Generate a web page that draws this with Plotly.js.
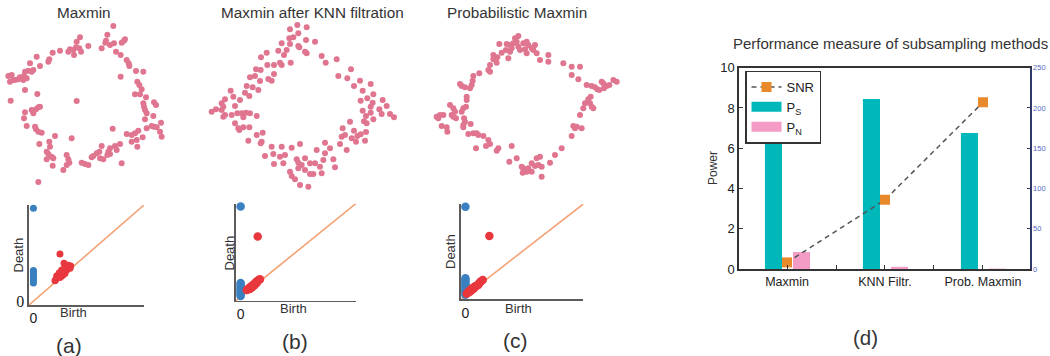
<!DOCTYPE html>
<html><head><meta charset="utf-8">
<script src="https://cdn.plot.ly/plotly-3.0.1.min.js"></script>
<style>html,body{margin:0;padding:0;background:#fff}#chart{width:1050px;height:356px}</style>
</head><body><div id="chart"></div>
<script>
// ---- point clouds (arbitrary units, y grows downward) ----
const maxminPts = [[340,78],[322,104],[318,122],[330,135],[316,128],[342,130],[365,128],[372,122],[375,118],[305,145],[348,155],[362,165],[380,180],[386,190],[388,198],[408,213],[430,215],[362,230],[412,245],[418,255],[425,268],[405,283],[420,283],[438,292],[430,310],[432,320],[435,330],[462,307],[468,315],[440,340],[460,348],[435,358],[483,368],[462,380],[470,382],[455,378],[440,385],[480,395],[485,410],[415,392],[405,400],[395,405],[380,402],[410,420],[395,425],[428,412],[412,440],[338,386],[360,432],[345,438],[330,445],[325,455],[330,462],[322,465],[305,438],[298,455],[290,460],[280,468],[275,472],[300,475],[310,478],[350,450],[365,490],[265,495],[255,492],[245,488],[215,415],[200,465],[205,478],[208,488],[200,495],[190,510],[165,408],[148,425],[150,440],[140,455],[145,462],[155,470],[160,475],[140,478],[158,497],[118,432],[125,398],[115,395],[108,388],[105,380],[80,378],[72,355],[75,337],[100,340],[108,328],[95,330],[115,322],[120,320],[112,282],[75,270],[32,302],[230,303],[115,546],[25,228],[35,225],[40,240],[30,245],[45,240],[55,238],[60,232],[70,240],[72,228],[80,235],[75,215],[85,212],[90,190],[95,215],[100,210],[110,170],[120,198],[145,185],[148,178],[158,158],[180,152],[205,155],[210,148],[220,150],[228,142],[222,165],[238,145],[243,155],[230,125],[240,112],[265,138]];
const knnPts = [[352,75],[330,88],[380,82],[355,100],[340,112],[328,115],[305,130],[330,132],[355,138],[358,142],[378,120],[405,125],[375,155],[320,150],[295,152],[312,165],[260,158],[243,172],[262,195],[282,195],[300,188],[305,195],[332,188],[282,222],[275,242],[265,237],[242,210],[228,208],[225,228],[210,232],[240,243],[200,258],[218,262],[235,270],[195,278],[208,288],[152,272],[160,290],[135,298],[125,310],[130,320],[108,328],[95,335],[125,330],[135,345],[130,350],[155,345],[165,318],[180,300],[172,340],[185,340],[190,352],[198,338],[210,340],[230,348],[165,370],[175,385],[178,390],[190,382],[208,382],[230,405],[248,398],[242,430],[245,425],[205,422],[275,440],[255,468],[280,462],[282,492],[305,440],[300,470],[315,465],[310,490],[335,443],[360,432],[350,478],[355,488],[355,505],[365,495],[375,510],[330,515],[335,528],[345,538],[360,555],[385,560],[390,522],[400,522],[375,475],[390,490],[405,490],[410,450],[435,428],[435,460],[430,480],[420,500],[425,520],[450,445],[460,478],[465,502],[480,432],[485,410],[500,450],[528,425],[555,422],[470,178],[437,188],[425,168],[380,160],[475,228],[513,208],[502,235],[540,242],[572,252],[522,258],[548,272],[580,283],[562,295],[542,302],[608,300],[578,308],[572,320],[620,318],[598,328],[548,332],[572,338],[605,342],[630,342],[642,352],[558,348],[580,358],[552,364],[560,370],[510,365],[488,385],[522,392],[558,396],[495,405],[532,408],[542,403],[515,415]];
const probPts = [[355,108],[345,115],[350,125],[340,130],[330,135],[320,132],[335,145],[355,140],[360,150],[370,130],[380,125],[385,135],[375,148],[380,160],[395,145],[405,135],[410,160],[400,150],[298,132],[318,150],[330,155],[305,158],[325,175],[280,165],[292,172],[280,178],[290,188],[270,195],[265,210],[270,215],[238,220],[220,228],[218,242],[215,255],[180,252],[185,258],[195,262],[210,265],[200,290],[200,300],[198,320],[190,325],[185,335],[150,315],[160,325],[165,335],[155,345],[160,350],[168,355],[130,345],[120,345],[110,350],[115,355],[192,355],[195,365],[190,375],[190,382],[212,372],[125,378],[140,382],[142,395],[205,402],[220,400],[230,400],[235,405],[250,408],[228,445],[265,420],[270,432],[258,438],[295,445],[290,452],[335,438],[328,485],[350,475],[365,500],[370,505],[375,512],[368,518],[380,515],[385,505],[395,515],[395,490],[410,475],[420,470],[405,498],[415,495],[425,500],[425,530],[450,488],[465,465],[485,445],[515,408],[520,378],[530,380],[525,385],[545,385],[540,345],[550,325],[555,310],[565,305],[570,310],[575,320],[580,325],[572,290],[565,298],[560,255],[575,258],[585,262],[592,268],[598,270],[605,245],[610,250],[612,265],[620,258],[628,255],[640,240],[650,245],[535,238],[515,225],[490,190],[515,200],[540,200],[445,165],[445,185],[420,180]];

// ---- persistence diagrams ----
const maxminH0Death = [0.966,0.19,0.21,0.23,0.25,0.27,0.29,0.31,0.32];
const maxminH1 = [[0.204,0.227],[0.216,0.248],[0.225,0.272],[0.234,0.296],[0.256,0.324],[0.286,0.352],[0.316,0.373],[0.337,0.366],[0.277,0.394],[0.240,0.490],[0.210,0.262],[0.256,0.262],[0.286,0.290],[0.301,0.324],[0.240,0.245],[0.270,0.275],[0.316,0.342],[0.195,0.213],[0.301,0.359],[0.331,0.342]];
const knnH0Death = [0.968,0.01,0.03,0.05,0.07,0.09,0.11,0.13,0.15];
const knnH1 = [[0.148,0.646],[0.053,0.075],[0.06,0.08],[0.07,0.09],[0.08,0.10],[0.09,0.11],[0.10,0.12],[0.11,0.13],[0.12,0.14],[0.13,0.155],[0.14,0.165],[0.15,0.175],[0.16,0.185],[0.168,0.19],[0.08,0.085],[0.10,0.105],[0.12,0.125],[0.14,0.15]];
const probH0Death = [0.97,0.01,0.03,0.05,0.07,0.09,0.11,0.13,0.15,0.17,0.19];
const probH1 = [[0.203,0.651],[0.011,0.02],[0.02,0.035],[0.03,0.05],[0.04,0.06],[0.05,0.07],[0.06,0.08],[0.07,0.09],[0.08,0.10],[0.09,0.105],[0.10,0.11],[0.11,0.12],[0.12,0.14],[0.13,0.155],[0.147,0.17],[0.05,0.055],[0.07,0.075],[0.035,0.04]];
const diagRange = [-0.04, 1];

// ---- panel (d) ----
const methods = ['Maxmin','KNN Filtr.','Prob. Maxmin'];
const powerSignal = [6.42, 8.45, 6.75];
const powerNoise = [0.84, 0.11, 0.02];
const snr = [8.2, 86, 207];

const FONT = 'Liberation Sans, Arial, sans-serif';
const PINK = '#e07590', BLUE = '#3a80c1', RED = '#e8383d', DIAG = '#f4a275';
const TEAL = '#00b8ba', ROSE = '#f49cc6';
const W = 1050, H = 356;
const px = v => v / W, py = v => 1 - v / H;

const traces = [];
const clouds = [maxminPts, knnPts, probPts];
clouds.forEach((pts, i) => {
  const k = i + 1;
  traces.push({type:'scatter', mode:'markers', x: pts.map(p=>p[0]), y: pts.map(p=>p[1]),
    xaxis:'x'+k, yaxis:'y'+k, showlegend:false, hoverinfo:'skip',
    marker:{size:6, color:PINK}});
});
const diagrams = [[maxminH0Death, maxminH1, 7], [knnH0Death, knnH1, 8.5], [probH0Death, probH1, 8.5]];
diagrams.forEach((d, i) => {
  const k = i + 4;
  traces.push({type:'scatter', mode:'lines', x: diagRange, y: diagRange, xaxis:'x'+k, yaxis:'y'+k,
    showlegend:false, hoverinfo:'skip', line:{color:DIAG, width:1.6}});
  traces.push({type:'scatter', mode:'markers', x: d[0].map(()=>0), y: d[0], xaxis:'x'+k, yaxis:'y'+k,
    showlegend:false, hoverinfo:'skip', cliponaxis:false, marker:{size:d[2], color:BLUE}});
  traces.push({type:'scatter', mode:'markers', x: d[1].map(p=>p[0]), y: d[1].map(p=>p[1]), xaxis:'x'+k, yaxis:'y'+k,
    showlegend:false, hoverinfo:'skip', cliponaxis:false, marker:{size:d[2], color:RED}});
});
traces.push({type:'bar', name:'P<sub>S</sub>', x:methods, y:powerSignal, xaxis:'x7', yaxis:'y7',
  width:0.174, offset:-0.225, marker:{color:TEAL}, showlegend:false, legendgroup:'ps'});
traces.push({type:'bar', name:'P<sub>N</sub>', x:methods, y:powerNoise, xaxis:'x7', yaxis:'y7',
  width:0.174, offset:0.061, marker:{color:ROSE}, showlegend:false, legendgroup:'pn'});
traces.push({type:'scatter', mode:'lines+markers', name:'SNR', x:methods, y:snr, xaxis:'x8', yaxis:'y8',
  line:{color:'#555', width:1.5, dash:'5px,4px'}, marker:{symbol:'square', size:10, color:'#e8892b'}, legendrank:1});
// legend keys for the bar series (wide swatches as in the reference)
traces.push({type:'scatter', mode:'lines', name:'P<sub>S</sub>', x:[null], y:[null], xaxis:'x7', yaxis:'y7',
  line:{color:TEAL, width:13}, legendrank:2, legendgroup:'ps', hoverinfo:'skip'});
traces.push({type:'scatter', mode:'lines', name:'P<sub>N</sub>', x:[null], y:[null], xaxis:'x7', yaxis:'y7',
  line:{color:ROSE, width:13}, legendrank:3, legendgroup:'pn', hoverinfo:'skip'});

const layout = {
  width:W, height:H, margin:{l:0,r:0,t:0,b:0}, paper_bgcolor:'#fff', plot_bgcolor:'rgba(0,0,0,0)',
  font:{family:FONT, color:'#222'}, barmode:'overlay', showlegend:true,
  legend:{x:px(745), y:py(70.5), xanchor:'left', yanchor:'top', bgcolor:'#fff', bordercolor:'#333',
    borderwidth:1.5, font:{size:13, color:'#222'}, tracegroupgap:0, itemwidth:30},
  annotations:[],
};
const hid = (dom, rng, anchor) => ({domain:dom, range:rng, visible:false, anchor:anchor, fixedrange:true});
layout.xaxis  = hid([0, px(180)], [0,540], 'y');   layout.yaxis  = hid([py(200), 1], [600,0], 'x');
layout.xaxis2 = hid([px(180), px(400)], [0,660], 'y2'); layout.yaxis2 = hid([py(200), 1], [600,0], 'x2');
layout.xaxis3 = hid([px(400), px(630)], [0,690], 'y3'); layout.yaxis3 = hid([py(200), 1], [600,0], 'x3');

const dAxis = (dom, anchor, extra) => Object.assign({domain:dom, range:diagRange, anchor:anchor, showline:true,
  linecolor:'#5c5c5c', linewidth:1.6, showgrid:false, zeroline:false, ticks:'', tickvals:[0], ticktext:['0'],
  tickfont:{size:14, color:'#222'}, fixedrange:true}, extra||{});
layout.xaxis4 = dAxis([px(29), px(144)], 'y4');
layout.yaxis4 = dAxis([py(305), py(205)], 'x4', {tickfont:{size:16, family:'Liberation Serif, serif', color:'#222'}});
layout.xaxis5 = dAxis([px(236), px(356)], 'y5');
layout.yaxis5 = dAxis([py(300.7), py(203.5)], 'x5', {tickvals:[], ticktext:[], showticklabels:false});
layout.xaxis6 = dAxis([px(460.7), px(583.3)], 'y6');
layout.yaxis6 = dAxis([py(299.3), py(204)], 'x6', {tickvals:[], ticktext:[], showticklabels:false});

const catRange = [-0.49, 2.48];
layout.xaxis7 = {domain:[px(739), px(1030)], anchor:'y7', type:'category', range:catRange, showline:true, mirror:true,
  linecolor:'#333', linewidth:1.8, ticks:'inside', tickson:'boundaries', ticklen:4, tickcolor:'#333',
  showgrid:false, tickfont:{size:12.5, color:'#222'}, fixedrange:true};
layout.yaxis7 = {domain:[py(269), py(67.7)], anchor:'x7', range:[0,10], dtick:2, ticks:'inside', ticklen:4,
  tickcolor:'#333', showline:true, linecolor:'#333', linewidth:1.6, showgrid:false, zeroline:false,
  tickfont:{size:13, color:'#222'}, fixedrange:true};
layout.xaxis8 = {overlaying:'x7', anchor:'y8', type:'category', range:catRange, showline:false, ticks:'inside',
  ticklen:4, tickcolor:'#333', showticklabels:false, showgrid:false, fixedrange:true};
layout.yaxis8 = {overlaying:'y7', anchor:'x8', side:'right', range:[0,250], dtick:50, ticks:'inside', ticklen:3,
  tickcolor:'#2d3a6b', showline:true, linecolor:'#2d3a6b', linewidth:1.6, showgrid:false, zeroline:false,
  tickfont:{size:7.5, color:'#5468c0'}, fixedrange:true};

const ann = (text, x, y, size, extra) => layout.annotations.push(Object.assign({text:text, x:px(x), y:py(y),
  xref:'paper', yref:'paper', showarrow:false, xanchor:'center', yanchor:'middle', font:{size:size, color:'#333'}}, extra||{}));
ann('Maxmin', 83.5, 12.5, 15.3);
ann('Maxmin after KNN filtration', 312, 12.5, 15.3);
ann('Probabilistic Maxmin', 516.7, 12.5, 15.3);
ann('Death', 17.5, 255, 13, {textangle:-90});
ann('Death', 228.5, 253, 13, {textangle:-90});
ann('Death', 451, 252, 13, {textangle:-90});
ann('Birth', 73, 312.5, 13);
ann('Birth', 293, 308.5, 13);
ann('Birth', 518, 308.5, 13);
ann('(a)', 68.5, 345, 21);
ann('(b)', 295, 341, 21);
ann('(c)', 515, 340, 21);
ann('Performance measure of subsampling methods', 890.8, 43, 15);
ann('Power', 713, 168, 12, {textangle:-90});
ann('(d)', 865, 337, 20.5);

Plotly.newPlot('chart', traces, layout, {staticPlot:true, displayModeBar:false});
</script>
</body></html>
